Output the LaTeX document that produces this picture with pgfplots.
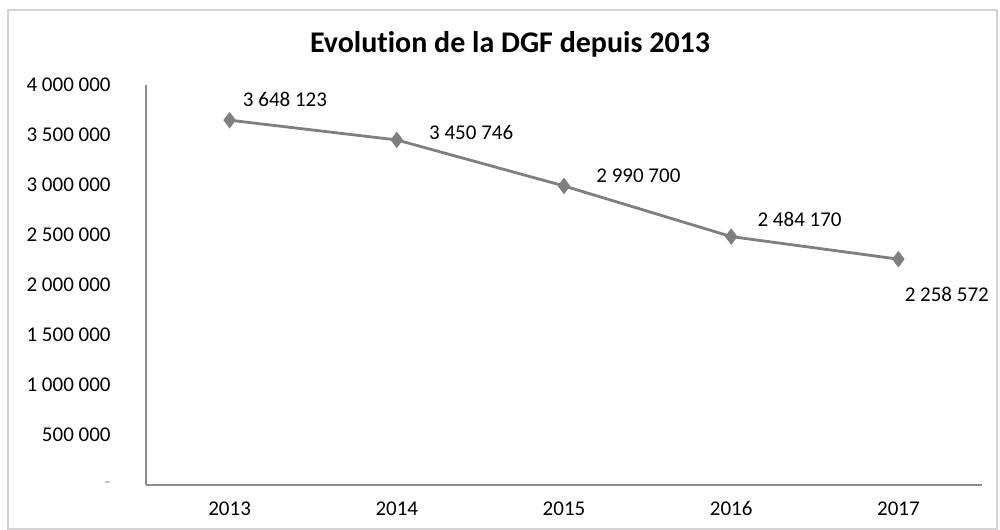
\documentclass[border=0pt]{standalone}
\usepackage{pgfplots}
\pgfplotsset{compat=1.18}
\usepackage{fontspec}
\setmainfont{Carlito}[Ligatures={NoCommon}]
\definecolor{serie}{HTML}{7F7F7F}
\definecolor{axe}{HTML}{8C8C8C}
\definecolor{cadre}{HTML}{D4D4D4}

\begin{document}
\begin{tikzpicture}
\fontsize{10.5bp}{12bp}\selectfont
% cadre et taille de la page
\path[use as bounding box] (-73bp,-22.5bp) rectangle (427bp,242.5bp);
\draw[cadre, line width=1bp] (-69bp,-22bp) rectangle (425.5bp,237.5bp);
\begin{axis}[
    at={(0,0)}, anchor=south west,
    scale only axis, width=418bp, height=200bp,
    xmin=-0.5, xmax=4.5, ymin=0, ymax=4000000,
    axis lines=left, x axis line style={-}, y axis line style={-},
    axis line style={axe, line width=0.8bp},
    scaled y ticks=false,
    xtick={0,1,2,3,4},
    xticklabels={2013,2014,2015,2016,2017},
    ytick={0,500000,1000000,1500000,2000000,2500000,3000000,3500000,4000000},
    yticklabels={{\textcolor{gray!60}{-}\hspace{11bp}},500 000,1 000 000,1 500 000,2 000 000,2 500 000,3 000 000,3 500 000,4 000 000},
    major tick length=0pt,
    yticklabel style={anchor=east, inner sep=0pt, xshift=-17.5bp, font=\fontsize{10.5bp}{12bp}\selectfont},
    xticklabel style={anchor=north, inner sep=0pt, yshift=-8bp, font=\fontsize{10.5bp}{12bp}\selectfont},
    clip=false,
]
\addplot[color=serie, line width=1.4bp, mark=diamond*, mark size=3bp,
    mark options={fill=serie, draw=serie}]
coordinates {
    (0, 3648123) (1, 3450746) (2, 2990700) (3, 2484170) (4, 2258572)
};
\begin{scope}[every node/.style={anchor=west, inner sep=0pt, font=\fontsize{10.5bp}{12bp}\selectfont}]
\node[xshift=6.5bp, yshift=10.5bp] at (axis cs:0,3648123) {3 648 123};
\node[xshift=16bp, yshift=3.5bp] at (axis cs:1,3450746) {3 450 746};
\node[xshift=16bp, yshift=5bp] at (axis cs:2,2990700) {2 990 700};
\node[xshift=13bp, yshift=8.5bp] at (axis cs:3,2484170) {2 484 170};
\node[xshift=3bp, yshift=-17.5bp] at (axis cs:4,2258572) {2 258 572};
\end{scope}
\end{axis}
\node[anchor=base, font=\bfseries\fontsize{15bp}{18bp}\selectfont] at (182bp,216bp) {Evolution de la DGF depuis 2013};
\end{tikzpicture}
\end{document}
